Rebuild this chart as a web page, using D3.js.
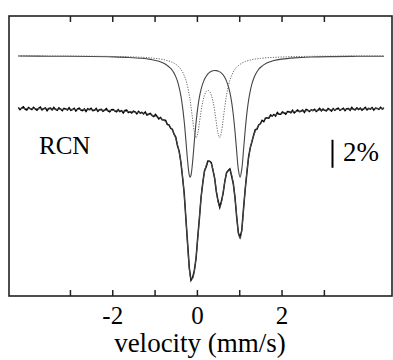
<!DOCTYPE html>
<html>
<head>
<meta charset="utf-8">
<script src="https://cdn.jsdelivr.net/npm/d3@7/dist/d3.min.js"></script>
<style>
  body { margin: 0; background: #fff; }
  svg { display: block; }
  text { font-family: "Liberation Serif", "Times New Roman", serif; fill: #000; }
</style>
</head>
<body>
<div class="vis"></div>
<script>
const compVelocity = [-4.22, -3.5, -2.5, -2.0, -1.6, -1.3, -1.1, -0.9, -0.75,
  -0.62, -0.58, -0.54, -0.50, -0.46, -0.42, -0.38, -0.34, -0.30, -0.26, -0.22, -0.18, -0.16,
  -0.14, -0.10, -0.06, -0.02, 0.02, 0.06, 0.10, 0.14, 0.18, 0.22, 0.26, 0.30, 0.34, 0.38,
  0.42, 0.46, 0.50, 0.54, 0.58, 0.62, 0.66, 0.70, 0.74, 0.78, 0.82, 0.86, 0.90, 0.94, 0.98,
  1.02, 1.06, 1.10, 1.14, 1.18, 1.22, 1.26, 1.30, 1.34, 1.38, 1.42, 1.46, 1.50,
  1.65, 1.8, 2.0, 2.3, 2.7, 3.2, 3.8, 4.42];

// first doublet (solid), shifted up, transmission %
const solidDoublet = [103.78, 103.77, 103.75, 103.72, 103.68, 103.62, 103.54, 103.41, 103.21,
  102.90, 102.75, 102.56, 102.31, 101.99, 101.55, 100.97, 100.17, 99.10, 97.75, 96.30, 95.27, 95.12,
  95.26, 96.27, 97.70, 99.03, 100.08, 100.86, 101.42, 101.83, 102.13, 102.34, 102.50, 102.61, 102.69, 102.73,
  102.75, 102.74, 102.71, 102.65, 102.56, 102.43, 102.24, 101.99, 101.64, 101.16, 100.50, 99.59, 98.40, 96.97, 95.67,
  95.12, 95.69, 97.01, 98.45, 99.67, 100.60, 101.28, 101.79, 102.16, 102.44, 102.66, 102.83, 102.96,
  103.28, 103.44, 103.56, 103.65, 103.71, 103.74, 103.76, 103.77];

// second doublet (dotted)
const dottedDoublet = [103.79, 103.78, 103.77, 103.75, 103.72, 103.69, 103.65, 103.58, 103.50,
  103.38, 103.33, 103.27, 103.19, 103.10, 102.99, 102.84, 102.65, 102.39, 102.06, 101.60, 100.99, 100.61,
  100.18, 99.23, 98.35, 97.95, 98.25, 99.03, 99.86, 100.54, 100.99, 101.25, 101.33, 101.25, 100.99, 100.54,
  99.86, 99.03, 98.25, 97.95, 98.35, 99.23, 100.18, 100.99, 101.60, 102.06, 102.39, 102.65, 102.84, 102.99, 103.10,
  103.19, 103.27, 103.33, 103.38, 103.43, 103.46, 103.49, 103.52, 103.55, 103.57, 103.58, 103.60, 103.61,
  103.66, 103.68, 103.71, 103.74, 103.76, 103.77, 103.78, 103.79];

// total fit through the measured spectrum
const totalFit = [100.04, 100.00, 99.94, 99.89, 99.81, 99.71, 99.60, 99.39, 99.11,
  98.68, 98.48, 98.22, 97.90, 97.49, 96.94, 96.20, 95.21, 93.89, 92.20, 90.30, 88.66, 88.13,
  87.85, 87.90, 88.45, 89.38, 90.74, 92.29, 93.69, 94.77, 95.52, 95.99, 96.23, 96.26, 96.08, 95.67,
  95.01, 94.17, 93.36, 93.00, 93.31, 94.06, 94.83, 95.38, 95.64, 95.62, 95.30, 94.64, 93.63, 92.36, 91.17,
  90.72, 91.36, 92.74, 94.23, 95.50, 96.46, 97.18, 97.71, 98.10, 98.41, 98.64, 98.83, 98.98,
  99.34, 99.53, 99.69, 99.81, 99.89, 99.95, 100.00, 100.03];

// measured spectrum, one value per channel, channels start at -4.22 mm/s every 0.04 mm/s
const spectrumStart = -4.22;
const spectrumStep = 0.04;
const spectrum = [
  100.10, 99.95, 100.07, 100.15, 99.99, 99.92, 100.10, 100.03, 99.96, 100.12,
  100.00, 99.91, 100.05, 100.14, 99.94, 100.03, 100.08, 99.88, 100.03, 100.06,
  99.94, 100.10, 99.96, 99.90, 100.08, 99.98, 99.88, 100.04, 100.00, 99.93,
  100.09, 99.91, 99.96, 100.04, 99.85, 100.00, 100.05, 99.92, 99.88, 100.00,
  99.82, 100.01, 99.95, 100.04, 99.88, 99.91, 100.03, 99.83, 99.95, 99.97,
  99.83, 99.92, 100.02, 99.86, 99.79, 99.94, 99.96, 99.86, 99.80, 99.95,
  99.82, 99.88, 99.72, 99.89, 99.92, 99.75, 99.81, 99.71, 99.85, 99.80,
  99.65, 99.83, 99.71, 99.76, 99.64, 99.78, 99.56, 99.62, 99.68, 99.53,
  99.46, 99.61, 99.46, 99.29, 99.39, 99.23, 99.22, 99.19, 98.90, 98.86,
  98.62, 98.55, 98.20, 97.99, 97.38, 96.99, 96.23, 95.14, 93.97, 92.16,
  90.40, 88.65, 87.76, 87.96, 88.47, 89.33, 90.84, 92.21, 93.73, 94.74,
  95.59, 95.87, 96.28, 96.27, 96.17, 95.61, 95.04, 94.07, 93.44, 92.98,
  93.42, 93.99, 94.83, 95.44, 95.60, 95.72, 95.21, 94.66, 93.68, 92.28,
  91.14, 90.84, 91.31, 92.81, 94.22, 95.40, 96.55, 97.22, 97.65, 98.12,
  98.52, 98.56, 98.86, 98.94, 99.18, 99.09, 99.34, 99.37, 99.35, 99.57,
  99.50, 99.61, 99.50, 99.75, 99.62, 99.62, 99.78, 99.72, 99.63, 99.82,
  99.80, 99.73, 99.90, 99.72, 99.83, 99.92, 99.80, 99.84, 99.92, 99.75,
  99.97, 99.91, 99.82, 99.94, 99.88, 99.98, 99.82, 99.92, 100.04, 99.87,
  99.99, 99.90, 99.86, 100.03, 99.96, 99.84, 100.02, 99.91, 100.00, 100.06,
  99.90, 99.97, 100.05, 99.88, 100.01, 100.03, 99.91, 100.10, 99.97, 99.94,
  100.08, 99.96, 100.06, 99.91, 100.01, 100.12, 99.94, 100.04, 99.99, 100.10,
  99.92, 100.07, 100.04, 99.97, 100.12, 100.00, 100.07];

const tickValues = [-3, -2, -1, 0, 1, 2, 3];
const labelledTicks = [-2, 0, 2];
const sampleName = "RCN";
const scaleBarSize = 2;   // percent
const xTitle = "velocity (mm/s)";

const W = 393, H = 360;
const frame = {left: 9, right: 392, top: 16, bottom: 296};

const svg = d3.select(".vis").append("svg")
  .attr("width", W).attr("height", H);

const x = d3.scaleLinear().domain([-4.44, 4.61]).range([frame.left, frame.right]);
const y = d3.scaleLinear().domain([86.64, 106.64]).range([frame.bottom, frame.top]);

const comp = compVelocity.map((v, i) => ({v: v, solid: solidDoublet[i], dotted: dottedDoublet[i], fit: totalFit[i]}));
const measured = spectrum.map((t, i) => ({v: spectrumStart + spectrumStep * i, t: t}));

const smooth = key => d3.line().x(d => x(d.v)).y(d => y(d[key])).curve(d3.curveCatmullRom.alpha(0.5));

// measured spectrum
svg.append("path")
  .datum(measured)
  .attr("d", d3.line().x(d => x(d.v)).y(d => y(d.t)))
  .attr("fill", "none")
  .attr("stroke", "#000")
  .attr("stroke-width", 1.5);

// fit through the data
svg.append("path")
  .datum(comp)
  .attr("d", smooth("fit"))
  .attr("fill", "none")
  .attr("stroke", "#555")
  .attr("stroke-width", 0.9);

// sub-spectra
svg.append("path")
  .datum(comp)
  .attr("d", smooth("solid"))
  .attr("fill", "none")
  .attr("stroke", "#444")
  .attr("stroke-width", 1.1);

svg.append("path")
  .datum(comp)
  .attr("d", smooth("dotted"))
  .attr("fill", "none")
  .attr("stroke", "#666")
  .attr("stroke-width", 1)
  .attr("stroke-dasharray", "1.2,1.4");

// axes: ticks inside, top and bottom
const fmt = d => labelledTicks.includes(d) ? String(d) : "";

const xAxisBottom = svg.append("g")
  .attr("transform", "translate(0," + frame.bottom + ")")
  .call(d3.axisBottom(x).tickValues(tickValues).tickSizeInner(-6).tickSizeOuter(0).tickFormat(fmt));
xAxisBottom.select(".domain").remove();
xAxisBottom.selectAll("line").attr("stroke", "#222").attr("stroke-width", 1.5);
xAxisBottom.selectAll("text")
  .attr("y", 28).attr("dy", 0)
  .style("font-family", "'Liberation Serif', serif")
  .style("font-size", "25px")
  .attr("fill", "#000");

const xAxisTop = svg.append("g")
  .attr("transform", "translate(0," + frame.top + ")")
  .call(d3.axisTop(x).tickValues(tickValues).tickSizeInner(-6).tickSizeOuter(0).tickFormat(""));
xAxisTop.select(".domain").remove();
xAxisTop.selectAll("line").attr("stroke", "#222").attr("stroke-width", 1.5);

// frame
svg.append("rect")
  .attr("x", frame.left).attr("y", frame.top)
  .attr("width", frame.right - frame.left)
  .attr("height", frame.bottom - frame.top)
  .attr("fill", "none")
  .attr("stroke", "#222")
  .attr("stroke-width", 1.6);

// sample label
svg.append("text")
  .attr("x", 39).attr("y", 154)
  .style("font-size", "25px")
  .text(sampleName);

// 2% scale bar
const barBase = 95.8;
svg.append("line")
  .attr("x1", 332.5).attr("x2", 332.5)
  .attr("y1", y(barBase)).attr("y2", y(barBase + scaleBarSize))
  .attr("stroke", "#000").attr("stroke-width", 2);
svg.append("text")
  .attr("x", 343).attr("y", 161)
  .style("font-size", "27px")
  .text(scaleBarSize + "%");

// x title
svg.append("text")
  .attr("x", 200).attr("y", 352)
  .attr("text-anchor", "middle")
  .style("font-size", "27px")
  .text(xTitle);
</script>
</body>
</html>
